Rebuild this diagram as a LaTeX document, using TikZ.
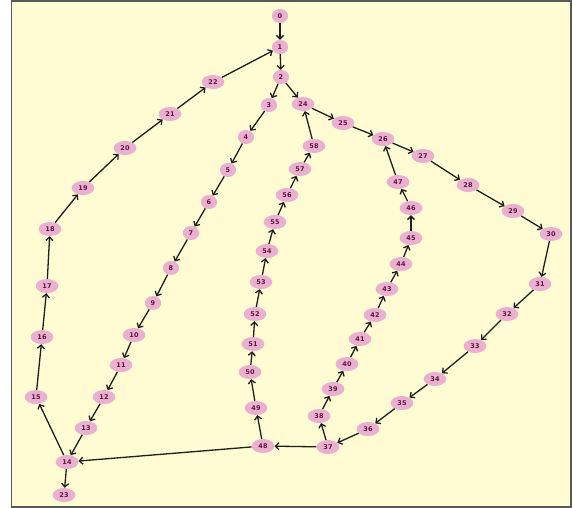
\documentclass[tikz,border=0pt]{standalone}
\usepackage{fontspec}
\setsansfont{DejaVu Sans}
\usetikzlibrary{shapes.geometric,arrows.meta}
\definecolor{paper}{HTML}{FFFCD4}
\definecolor{blob}{HTML}{EBB0D0}
\definecolor{ink}{HTML}{5A1840}
\definecolor{edgegray}{HTML}{1E1E1E}
\begin{document}
\begin{tikzpicture}[x=1pt,y=-1pt,
    vtx/.style={ellipse,fill=blob,inner xsep=3.5pt,inner ysep=0.5pt,minimum width=15pt,minimum height=14pt,
      font=\sffamily\bfseries\fontsize{6.5}{7}\selectfont,text=ink},
    link/.style={-{Straight Barb[length=3.5pt,width=7pt]},line width=1.3pt,draw=edgegray}]
    \useasboundingbox (0,0) rectangle (573,508);
    \fill[white] (0,0) rectangle (573,508);
    \draw[fill=paper,draw=gray!70!black,line width=1.2pt] (11.5,1) rectangle (571,507);
    % nodes
    \foreach \n/\x/\y in {0/280/16,1/280/47,2/281/77,3/269/105,4/246/137,5/228/170,6/209/202,
        7/191/233,8/171/268,9/153/303,10/134/335,11/121/365,12/104/397,13/86/428,14/67/462,
        15/36/397,16/42/337,17/47/286,18/50/229,19/83/188,20/125/148,21/170/114,22/213/82,
        23/64/495,24/303/104,25/343/123,26/383/139,27/423/156,28/468/185,29/513/211,30/551/234,
        31/540/284,32/507/314,33/475/346,34/435/379,35/402/403,36/368/429,37/328/447,
        38/319/416,39/333/389,40/347/364,41/360/339,42/375/315,43/387/289,44/401/264,
        45/411/238,46/411/208,47/398/182,48/263/446,49/256/408,50/250/372,51/253/344,
        52/255/314,53/261/282,54/267/251,55/275/222,56/287/195,57/300/169,58/314/146}
      \node[vtx] (n\n) at (\x,\y) {\n};
    % edges
    \foreach \a/\b in {0/1,1/2,2/3,2/24,22/1,14/23,47/26,37/48,48/14,58/24}
      \draw[link] (n\a) -- (n\b);
    \foreach \a [count=\b from 4] in {3,...,13}
      \draw[link] (n\a) -- (n\b);
    \foreach \a [count=\b from 15] in {14,...,21}
      \draw[link] (n\a) -- (n\b);
    \foreach \a [count=\b from 25] in {24,...,36}
      \draw[link] (n\a) -- (n\b);
    \foreach \a [count=\b from 38] in {37,...,46}
      \draw[link] (n\a) -- (n\b);
    \foreach \a [count=\b from 49] in {48,...,57}
      \draw[link] (n\a) -- (n\b);
\end{tikzpicture}
\end{document}
